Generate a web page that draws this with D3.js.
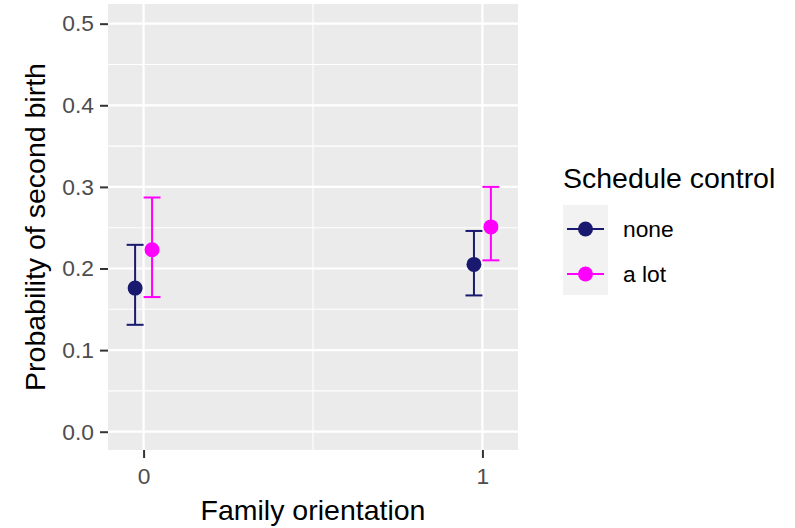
<!DOCTYPE html>
<html>
<head>
<meta charset="utf-8">
<script src="https://cdn.jsdelivr.net/npm/d3@7"></script>
<style>
  body { margin: 0; background: #fff; }
  svg { display: block; font-family: "Liberation Sans", Arial, sans-serif; }
</style>
</head>
<body>
<div class="chart"></div>
<script>
// data
const orientation = [0, 1];
const scheduleLevels = ['none', 'a lot'];
const scheduleColors = ['#191970', '#ff00ff'];
const probNone = [0.176, 0.205];
const lowerNone = [0.131, 0.167];
const upperNone = [0.229, 0.246];
const probALot = [0.223, 0.251];
const lowerALot = [0.165, 0.210];
const upperALot = [0.287, 0.300];
const yTicks = [0, 0.1, 0.2, 0.3, 0.4, 0.5];
const yMinor = [0.05, 0.15, 0.25, 0.35, 0.45];
const xTicks = [0, 1];
const xMinor = [0.5];

let canvas = {
  svg: {},
  xScale: {},
  yScale: {},
  config: {
    svgW: 795,
    svgH: 528,
    panelL: 108,
    panelR: 518,
    panelT: 4,
    panelB: 450,
    dodge: 0.025,
    capW: 0.025
  },
  series: function () {
    return [
      { name: scheduleLevels[0], color: scheduleColors[0], off: -this.config.dodge, p: probNone, lo: lowerNone, hi: upperNone },
      { name: scheduleLevels[1], color: scheduleColors[1], off: this.config.dodge, p: probALot, lo: lowerALot, hi: upperALot }
    ];
  },
  init: function () {
    this.svg = d3.select('.chart').append('svg')
      .attr('width', this.config.svgW)
      .attr('height', this.config.svgH);
    this.bind();
    this.render();
  },
  bind: function () {
    let c = this.config;
    this.xScale = d3.scaleLinear().domain([-0.105, 1.105]).range([c.panelL, c.panelR]);
    this.yScale = d3.scaleLinear().domain([-0.0224, 0.5241]).range([c.panelB, c.panelT]);
  },
  render: function () {
    let c = this.config;
    let x = this.xScale, y = this.yScale;
    // panel background
    this.svg.append('rect')
      .attr('x', c.panelL).attr('y', c.panelT)
      .attr('width', c.panelR - c.panelL).attr('height', c.panelB - c.panelT)
      .attr('fill', '#ebebeb');
    // grid lines
    let grid = this.svg.append('g');
    grid.selectAll('.ym').data(yMinor).enter().append('line')
      .attr('x1', c.panelL).attr('x2', c.panelR)
      .attr('y1', d => y(d)).attr('y2', d => y(d))
      .attr('stroke', '#fff').attr('stroke-width', 1.1);
    grid.selectAll('.xm').data(xMinor).enter().append('line')
      .attr('y1', c.panelT).attr('y2', c.panelB)
      .attr('x1', d => x(d)).attr('x2', d => x(d))
      .attr('stroke', '#fff').attr('stroke-width', 1.1);
    grid.selectAll('.yM').data(yTicks).enter().append('line')
      .attr('x1', c.panelL).attr('x2', c.panelR)
      .attr('y1', d => y(d)).attr('y2', d => y(d))
      .attr('stroke', '#fff').attr('stroke-width', 2.2);
    grid.selectAll('.xM').data(xTicks).enter().append('line')
      .attr('y1', c.panelT).attr('y2', c.panelB)
      .attr('x1', d => x(d)).attr('x2', d => x(d))
      .attr('stroke', '#fff').attr('stroke-width', 2.2);

    // axes
    let yAxis = d3.axisLeft(y).tickValues(yTicks).tickFormat(d3.format('.1f'))
      .tickSizeInner(8).tickSizeOuter(0).tickPadding(6);
    let xAxis = d3.axisBottom(x).tickValues(xTicks).tickFormat(d3.format('d'))
      .tickSizeInner(8).tickSizeOuter(0).tickPadding(10);
    let gy = this.svg.append('g')
      .attr('transform', `translate(${c.panelL}, 0)`)
      .call(yAxis);
    let gx = this.svg.append('g')
      .attr('transform', `translate(0, ${c.panelB})`)
      .call(xAxis);
    [gx, gy].forEach(g => {
      g.select('.domain').remove();
      g.selectAll('.tick line').attr('stroke', '#333333').attr('stroke-width', 2);
      g.selectAll('.tick text').attr('fill', '#4d4d4d')
        .style('font-size', '22.8px').style('font-family', '"Liberation Sans", Arial, sans-serif');
    });

    // axis titles
    this.svg.append('text')
      .attr('x', (c.panelL + c.panelR) / 2).attr('y', 520)
      .attr('text-anchor', 'middle')
      .style('font-size', '28.5px')
      .text('Family orientation');
    this.svg.append('text')
      .attr('transform', 'rotate(-90)')
      .attr('x', -(c.panelT + c.panelB) / 2).attr('y', 45)
      .attr('text-anchor', 'middle')
      .style('font-size', '28.5px')
      .text('Probability of second birth');

    // error bars + points
    this.series().forEach(s => {
      let g = this.svg.append('g');
      let rows = orientation.map((o, i) => ({ o: o, p: s.p[i], lo: s.lo[i], hi: s.hi[i] }));
      rows.forEach(d => {
        let cx = x(d.o + s.off);
        g.append('line').attr('x1', cx).attr('x2', cx).attr('y1', y(d.lo)).attr('y2', y(d.hi))
          .attr('stroke', s.color).attr('stroke-width', 2);
        [d.lo, d.hi].forEach(v => {
          g.append('line')
            .attr('x1', x(d.o + s.off - c.capW)).attr('x2', x(d.o + s.off + c.capW))
            .attr('y1', y(v)).attr('y2', y(v))
            .attr('stroke', s.color).attr('stroke-width', 2);
        });
      });
      g.selectAll('circle').data(rows).enter().append('circle')
        .attr('cx', d => x(d.o + s.off))
        .attr('cy', d => y(d.p))
        .attr('r', 7.5)
        .attr('fill', s.color);
    });

    // legend
    let lg = this.svg.append('g').attr('transform', 'translate(563, 0)');
    lg.append('text').attr('x', 0).attr('y', 188)
      .style('font-size', '28.5px').text('Schedule control');
    this.series().forEach((s, i) => {
      let top = 205 + i * 45;
      let mid = top + 22.5;
      lg.append('rect').attr('x', 0).attr('y', top).attr('width', 45).attr('height', 45)
        .attr('fill', '#f2f2f2');
      lg.append('line').attr('x1', 4).attr('x2', 41).attr('y1', mid + 1.5).attr('y2', mid + 1.5)
        .attr('stroke', s.color).attr('stroke-width', 2);
      lg.append('circle').attr('cx', 22.5).attr('cy', mid + 1.5).attr('r', 7.5).attr('fill', s.color);
      lg.append('text').attr('x', 60).attr('y', mid + 1.5).attr('dy', '0.36em')
        .style('font-size', '22.8px').text(s.name);
    });
  }
};

canvas.init();
</script>
</body>
</html>
